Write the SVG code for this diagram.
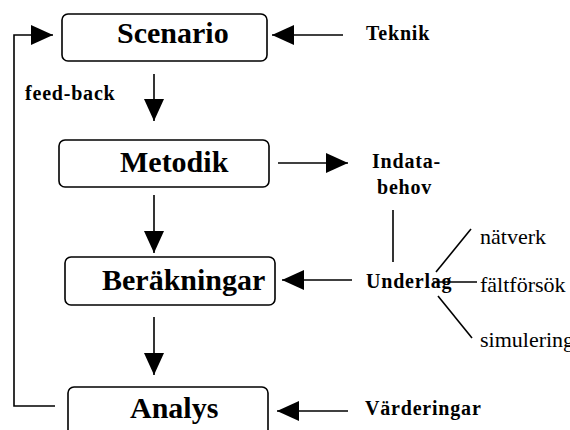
<svg xmlns="http://www.w3.org/2000/svg" width="570" height="430" viewBox="0 0 570 430">
<style>
.box{fill:#fff;stroke:#000;stroke-width:1.6}
.bt{font-family:"Liberation Serif",serif;font-weight:bold;font-size:30px;fill:#000}
.lb{font-family:"Liberation Serif",serif;font-weight:bold;font-size:20px;letter-spacing:0.8px;fill:#000}
.nt{font-family:"Liberation Serif",serif;font-size:22px;fill:#000}
.ln{stroke:#000;stroke-width:1.6;fill:none}
</style>
<defs>
<marker id="ah" markerWidth="22" markerHeight="20" refX="22" refY="10" orient="auto" markerUnits="userSpaceOnUse">
<path d="M0,0 L22,10 L0,20 Z" fill="#000"/>
</marker>
</defs>
<rect width="570" height="430" fill="#fff"/>
<g id="scenario"><rect class="box" x="62" y="14" width="205" height="47" rx="6"/><text class="bt" x="117" y="43">Scenario</text></g>
<g id="metodik"><rect class="box" x="59" y="140" width="210" height="47" rx="6"/><text class="bt" x="120" y="172">Metodik</text></g>
<g id="berakningar"><rect class="box" x="65" y="257" width="210" height="48" rx="6"/><text class="bt" x="102" y="290">Beräkningar</text></g>
<g id="analys"><rect class="box" x="68" y="387" width="200" height="60" rx="6"/><text class="bt" x="130" y="418">Analys</text></g>
<g id="teknik"><text class="lb" x="366" y="40">Teknik</text></g>
<g id="indatabehov"><text class="lb" x="372" y="168">Indata-</text><text class="lb" x="377" y="194">behov</text></g>
<g id="underlag"><text class="lb" x="366" y="288">Underlag</text></g>
<g id="varderingar"><text class="lb" x="365" y="415">Värderingar</text></g>
<g id="feedback"><text class="lb" x="25" y="100">feed-back</text></g>
<g id="natverk"><text class="nt" x="480" y="244">nätverk</text></g>
<g id="faltforsok"><text class="nt" x="480" y="292">fältförsök</text></g>
<g id="simulering"><text class="nt" x="480" y="347">simulering</text></g>
<g id="connectors">
<line class="ln" x1="154" y1="74" x2="154" y2="121" marker-end="url(#ah)"/>
<line class="ln" x1="154" y1="195" x2="154" y2="253" marker-end="url(#ah)"/>
<line class="ln" x1="154" y1="317" x2="154" y2="375" marker-end="url(#ah)"/>
<polyline class="ln" points="55,406 14,406 14,35 53,35" marker-end="url(#ah)"/>
<line class="ln" x1="343" y1="35" x2="272" y2="35" marker-end="url(#ah)"/>
<line class="ln" x1="278" y1="163" x2="348" y2="163" marker-end="url(#ah)"/>
<line class="ln" x1="352" y1="280" x2="282" y2="280" marker-end="url(#ah)"/>
<line class="ln" x1="348" y1="411" x2="277" y2="411" marker-end="url(#ah)"/>
<line class="ln" x1="393" y1="210" x2="393" y2="262"/>
<line class="ln" x1="436" y1="272" x2="471" y2="229"/>
<line class="ln" x1="433" y1="282" x2="477" y2="282"/>
<line class="ln" x1="438" y1="296" x2="472" y2="338"/>
</g>
</svg>
